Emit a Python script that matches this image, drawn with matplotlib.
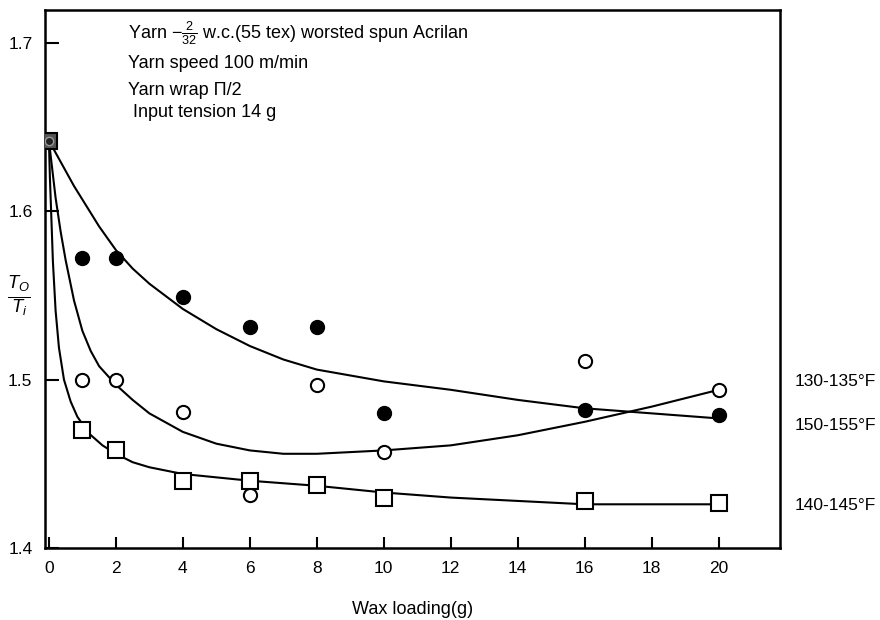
import matplotlib
matplotlib.use("Agg")
import matplotlib.pyplot as plt

plt.rcParams['font.family'] = ['Liberation Sans', 'DejaVu Sans']
plt.rcParams['mathtext.fontset'] = 'custom'
plt.rcParams['mathtext.rm'] = 'Liberation Sans'
plt.rcParams['mathtext.it'] = 'Liberation Sans:italic'

# measured points, wax loading (g) vs T0/Ti
wax = [1, 2, 4, 6, 8, 10, 16, 20]
t150 = [1.572, 1.572, 1.549, 1.531, 1.531, 1.480, 1.482, 1.479]   # filled circles
t130 = [1.500, 1.500, 1.481, 1.4315, 1.497, 1.457, 1.511, 1.494]  # open circles
t140 = [1.470, 1.458, 1.440, 1.440, 1.4375, 1.430, 1.428, 1.427]  # open squares

# common starting point with no wax
start_x = 0
start_y = 1.642

# hand-drawn fitted curves
fit150_x = [0, 0.25, 0.5, 0.75, 1, 1.5, 2, 2.5, 3, 4, 5, 6, 7, 8, 10, 12, 14, 16, 18, 20]
fit150_y = [1.642, 1.633, 1.624, 1.615, 1.607, 1.591, 1.577, 1.566, 1.557, 1.542, 1.530,
            1.520, 1.512, 1.506, 1.499, 1.494, 1.488, 1.483, 1.480, 1.477]

fit130_x = [0, 0.1, 0.2, 0.35, 0.5, 0.75, 1, 1.25, 1.5, 2, 2.5, 3, 4, 5, 6, 7, 8, 9, 10,
            12, 14, 16, 18, 20]
fit130_y = [1.642, 1.625, 1.608, 1.588, 1.571, 1.547, 1.529, 1.517, 1.508, 1.497, 1.488,
            1.480, 1.469, 1.462, 1.458, 1.456, 1.456, 1.457, 1.458, 1.461, 1.467, 1.475,
            1.484, 1.494]

fit140_x = [0, 0.03, 0.07, 0.12, 0.2, 0.3, 0.45, 0.65, 0.85, 1.2, 1.6, 2, 2.5, 3, 4, 5, 6,
            8, 10, 12, 14, 16, 18, 20]
fit140_y = [1.642, 1.620, 1.598, 1.570, 1.541, 1.519, 1.500, 1.487, 1.478, 1.468, 1.461,
            1.456, 1.451, 1.448, 1.444, 1.442, 1.440, 1.437, 1.433, 1.430, 1.428, 1.426,
            1.426, 1.426]

series_labels = ['130-135°F', '150-155°F', '140-145°F']
label_y = [1.499, 1.473, 1.425]

notes = [r'Yarn $-\frac{2}{32}$ w.c.(55 tex) worsted spun Acrilan',
         'Yarn speed 100 m/min',
         'Yarn wrap Π/2',
         ' Input tension 14 g']
notes_y = [0.957, 0.901, 0.851, 0.810]

fig = plt.figure(figsize=(8.8, 6.2), dpi=100)
ax = fig.add_axes([0.051, 0.116, 0.835, 0.868])

ax.plot(fit150_x, fit150_y, color='black', lw=1.5)
ax.plot(fit130_x, fit130_y, color='black', lw=1.5)
ax.plot(fit140_x, fit140_y, color='black', lw=1.5)

ax.plot(wax, t150, 'o', ms=10, color='black', zorder=4)
ax.plot(wax, t130, 'o', ms=9.5, mfc='white', mec='black', mew=1.5, zorder=4)
ax.plot(wax, t140, 's', ms=11.5, mfc='white', mec='black', mew=1.5, zorder=4)

# the three series overlap at zero wax
ax.plot(start_x, start_y, 's', ms=11, mfc='#555555', mec='black', mew=1.5, zorder=5)
ax.plot(start_x, start_y, 'o', ms=6, mfc='#222222', mec='#999999', mew=1, zorder=6)

ax.set_xlim(-0.12, 21.82)
ax.set_ylim(1.4, 1.7196)
ax.set_xticks(range(0, 21, 2))
ax.set_yticks([1.4, 1.5, 1.6, 1.7])
ax.set_yticklabels(['1.4', '1.5', '1.6', '1.7'])

ax.tick_params(axis='x', direction='in', length=8, width=1.5, pad=9, labelsize=12.5)
ax.tick_params(axis='y', direction='in', length=10, width=1.5, pad=9, labelsize=12.5)
for side in ['left', 'right', 'top', 'bottom']:
    ax.spines[side].set_linewidth(1.8)

ax.set_xlabel('Wax loading(g)', fontsize=13, labelpad=18)
ax.text(-0.036, 0.467, r'$\frac{T_O}{T_i}$', transform=ax.transAxes,
        fontsize=19, ha='center', va='center')

for txt, yy in zip(notes, notes_y):
    ax.text(0.113, yy, txt, transform=ax.transAxes, fontsize=13, va='center')

for txt, yy in zip(series_labels, label_y):
    ax.text(1.02, yy, txt, transform=ax.get_yaxis_transform(), fontsize=12.5,
            va='center', ha='left', clip_on=False)

fig.savefig('out.png', dpi=100)
